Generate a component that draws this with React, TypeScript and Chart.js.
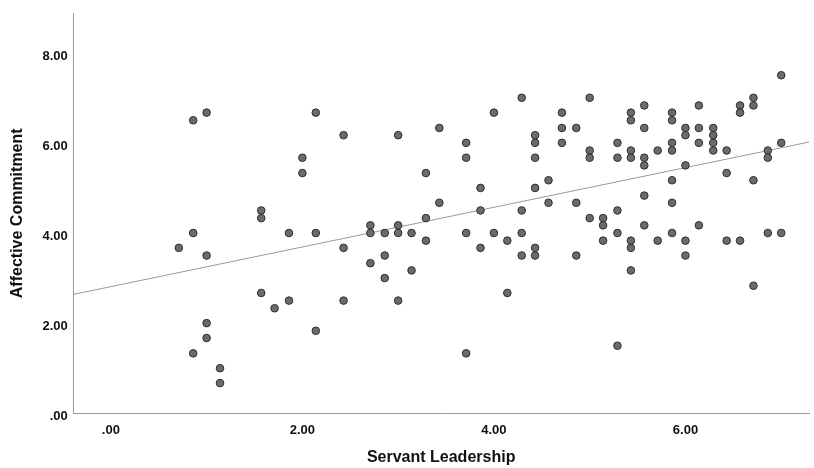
import React, { useEffect, useRef } from 'react';
import { Chart, registerables } from 'chart.js';

Chart.register(...registerables);

// Servant Leadership levels (x) and the Affective Commitment values (y) observed at each level
const slLevels = [
  0.71, 0.86, 1.0, 1.14, 1.57, 1.71, 1.86, 2.0, 2.14, 2.43,
  2.71, 2.86, 3.0, 3.14, 3.29, 3.43, 3.71, 3.86, 4.0, 4.14,
  4.29, 4.43, 4.57, 4.71, 4.86, 5.0, 5.14, 5.29, 5.43, 5.57,
  5.71, 5.86, 6.0, 6.14, 6.29, 6.43, 6.57, 6.71, 6.86, 7.0,
];
const acByLevel = [
  [3.67],
  [6.5, 4.0, 1.33],
  [6.67, 3.5, 2.0, 1.67],
  [1.0, 0.67],
  [4.5, 4.33, 2.67],
  [2.33],
  [4.0, 2.5],
  [5.67, 5.33],
  [6.67, 4.0, 1.83],
  [6.17, 3.67, 2.5],
  [4.17, 4.0, 3.33],
  [4.0, 3.5, 3.0],
  [6.17, 4.17, 4.0, 2.5],
  [4.0, 3.17],
  [5.33, 4.33, 3.83],
  [6.33, 4.67],
  [6.0, 5.67, 4.0, 1.33],
  [5.0, 4.5, 3.67],
  [6.67, 4.0],
  [3.83, 2.67],
  [7.0, 4.5, 4.0, 3.5],
  [6.17, 6.0, 5.67, 5.0, 3.67, 3.5],
  [5.17, 4.67],
  [6.67, 6.33, 6.0],
  [6.33, 4.67, 3.5],
  [7.0, 5.83, 5.67, 4.33],
  [4.33, 4.17, 3.83],
  [6.0, 5.67, 4.5, 4.0, 1.5],
  [6.67, 6.5, 5.83, 5.67, 3.83, 3.67, 3.17],
  [6.83, 6.33, 5.67, 5.5, 4.83, 4.17],
  [5.83, 3.83],
  [6.67, 6.5, 6.0, 5.83, 5.17, 4.67, 4.0],
  [6.33, 6.17, 5.5, 3.83, 3.5],
  [6.83, 6.33, 6.0, 4.17],
  [6.33, 6.17, 6.0, 5.83],
  [5.83, 5.33, 3.83],
  [6.83, 6.67, 3.83],
  [7.0, 6.83, 5.17, 2.83],
  [5.83, 5.67, 4.0],
  [7.5, 6.0, 4.0],
];

const xTickValues = [0, 2, 4, 6];
const xTickLabels = ['.00', '2.00', '4.00', '6.00'];
const yTickValues = [0, 2, 4, 6, 8];
const yTickLabels = ['.00', '2.00', '4.00', '6.00', '8.00'];

const xRange = [-0.392, 7.29];
const yRange = [0, 8.874];

// Fit line (linear regression)
const fitIntercept = 2.81;
const fitSlope = 0.44;

const FONT = "'Liberation Sans', Arial, sans-serif";

export default function App() {
  const ref = useRef<HTMLCanvasElement>(null);

  useEffect(() => {
    const points = slLevels.flatMap((x, i) => acByLevel[i].map((y) => ({ x, y })));
    const fitLine = xRange.map((x) => ({ x, y: fitIntercept + fitSlope * x }));

    const chart = new Chart(ref.current as HTMLCanvasElement, {
      type: 'scatter',
      data: {
        datasets: [
          {
            type: 'line',
            data: fitLine,
            borderColor: '#9a9a9a',
            borderWidth: 1,
            pointRadius: 0,
            fill: false,
            order: 2,
          } as any,
          {
            data: points,
            backgroundColor: '#6b6b6b',
            borderColor: '#2e2e2e',
            borderWidth: 1,
            pointRadius: 3.8,
            order: 1,
          },
        ],
      },
      options: {
        animation: false,
        responsive: false,
        maintainAspectRatio: false,
        layout: { padding: { top: 10, right: 0, left: 0, bottom: 0 } },
        plugins: { legend: { display: false }, tooltip: { enabled: false } },
        scales: {
          x: {
            type: 'linear',
            min: xRange[0],
            max: xRange[1],
            grid: { display: false, drawTicks: false },
            border: { color: '#9a9a9a', width: 1 },
            ticks: {
              padding: 9.5,
              color: '#111',
              font: { family: FONT, size: 13, weight: 'bold' },
              callback: (v: any) => {
                const i = xTickValues.indexOf(Number(v));
                return i >= 0 ? xTickLabels[i] : '';
              },
            },
            title: {
              display: true,
              text: 'Servant Leadership',
              color: '#111',
              font: { family: FONT, size: 16, weight: 'bold', lineHeight: 1 },
              padding: { top: 0, bottom: 2.5 },
            },
            afterBuildTicks: (s: any) => { s.ticks = xTickValues.map((value) => ({ value })); },
            afterFit: (s: any) => { s.height = 54.7; },
          },
          y: {
            type: 'linear',
            min: yRange[0],
            max: yRange[1],
            grid: { display: false, drawTicks: false },
            border: { color: '#9a9a9a', width: 1 },
            ticks: {
              padding: 5.5,
              labelOffset: 3.5,
              color: '#111',
              font: { family: FONT, size: 13, weight: 'bold' },
              callback: (v: any) => {
                const i = yTickValues.indexOf(Number(v));
                return i >= 0 ? yTickLabels[i] : '';
              },
            },
            title: {
              display: true,
              text: 'Affective Commitment',
              color: '#111',
              font: { family: FONT, size: 16, weight: 'bold', lineHeight: 1 },
              padding: { top: 10, bottom: 0 },
            },
            afterBuildTicks: (s: any) => { s.ticks = yTickValues.map((value) => ({ value })); },
            afterFit: (s: any) => { s.width = 73.3; },
          },
        },
      },
    } as any);

    return () => chart.destroy();
  }, []);

  return (
    <div style={{ position: 'absolute', left: 0, top: 0, width: 814, height: 468, background: '#fff' }}>
      <canvas ref={ref} width={814} height={468} style={{ display: 'block' }} />
    </div>
  );
}
